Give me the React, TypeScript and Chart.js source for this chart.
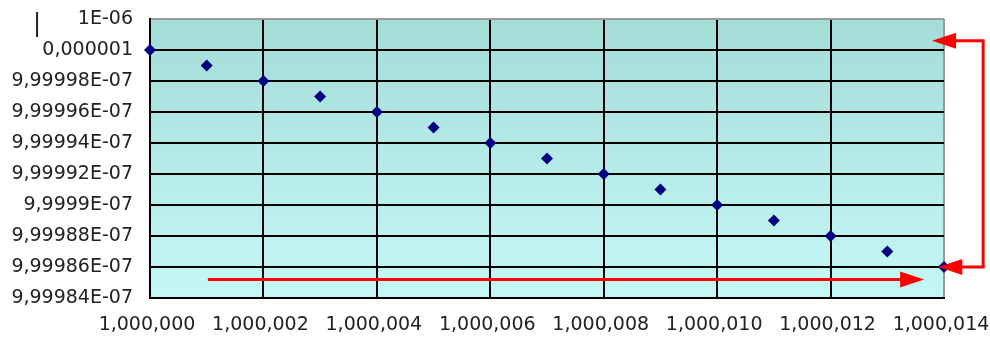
import React, { useEffect, useRef } from "react";
import { Chart, registerables } from "chart.js";

Chart.register(...registerables);

const xValues = [
  1000000, 1000001, 1000002, 1000003, 1000004, 1000005, 1000006, 1000007,
  1000008, 1000009, 1000010, 1000011, 1000012, 1000013, 1000014,
];
const yValues = [
  1e-6, 9.99999e-7, 9.99998e-7, 9.99997e-7, 9.99996e-7, 9.99995e-7, 9.99994e-7,
  9.99993e-7, 9.99992e-7, 9.99991e-7, 9.9999e-7, 9.99989e-7, 9.99988e-7,
  9.99987e-7, 9.99986e-7,
];

const xTickValues = [1000000, 1000002, 1000004, 1000006, 1000008, 1000010, 1000012, 1000014];
const xTickLabels = [
  "1,000,000", "1,000,002", "1,000,004", "1,000,006",
  "1,000,008", "1,000,010", "1,000,012", "1,000,014",
];
const yTickValues = [
  9.99984e-7, 9.99986e-7, 9.99988e-7, 9.9999e-7, 9.99992e-7,
  9.99994e-7, 9.99996e-7, 9.99998e-7, 1e-6, 1.000002e-6,
];
const yTickLabels = [
  "9,99984E-07", "9,99986E-07", "9,99988E-07", "9,9999E-07", "9,99992E-07",
  "9,99994E-07", "9,99996E-07", "9,99998E-07", "0,000001", "1E-06",
];

// Red annotation arrows in data coordinates
const hArrowFrom = { x: 1000001.02, y: 9.999852e-7 };
const hArrowTo = { x: 1000013.65, y: 9.999852e-7 };
const bracketX = 1000014.69;
const bracketTop = { x: 1000013.79, y: 1.0000006e-6 };
const bracketBottom = { x: 1000013.9, y: 9.99986e-7 };

const FONT = "'DejaVu Sans', sans-serif";

export default function App() {
  const ref = useRef<HTMLCanvasElement | null>(null);

  useEffect(() => {
    if (!ref.current) return;

    const bgPlugin = {
      id: "bg",
      beforeDraw(chart: any) {
        const { ctx, chartArea } = chart;
        const g = ctx.createLinearGradient(0, chartArea.top, 0, chartArea.bottom);
        g.addColorStop(0, "#a4dcd8");
        g.addColorStop(1, "#c4f8f6");
        ctx.save();
        ctx.fillStyle = g;
        ctx.fillRect(chartArea.left, chartArea.top, chartArea.right - chartArea.left, chartArea.bottom - chartArea.top);
        ctx.restore();
      },
    };

    const arrowPlugin = {
      id: "arrows",
      afterDraw(chart: any) {
        const { ctx } = chart;
        const xs = chart.scales.x;
        const ys = chart.scales.y;
        const px = (v: number) => xs.getPixelForValue(v);
        const py = (v: number) => ys.getPixelForValue(v);
        const head = (tx: number, ty: number, dir: number) => {
          ctx.beginPath();
          ctx.moveTo(tx, ty);
          ctx.lineTo(tx - dir * 24, ty - 8);
          ctx.lineTo(tx - dir * 24, ty + 8);
          ctx.closePath();
          ctx.fill();
        };
        ctx.save();
        ctx.strokeStyle = "#ff0000";
        ctx.fillStyle = "#ff0000";
        ctx.lineWidth = 3;
        const hx1 = px(hArrowFrom.x), hy = py(hArrowFrom.y), hx2 = px(hArrowTo.x);
        ctx.beginPath();
        ctx.moveTo(hx1, hy);
        ctx.lineTo(hx2 - 20, hy);
        ctx.stroke();
        head(hx2, hy, 1);
        const bx = px(bracketX);
        const ty = py(bracketTop.y), by = py(bracketBottom.y);
        const ttx = px(bracketTop.x), btx = px(bracketBottom.x);
        ctx.beginPath();
        ctx.moveTo(ttx + 20, ty);
        ctx.lineTo(bx, ty);
        ctx.lineTo(bx, by);
        ctx.lineTo(btx + 20, by);
        ctx.stroke();
        head(ttx, ty, -1);
        head(btx, by, -1);
        ctx.fillStyle = "#222";
        ctx.font = "24px " + FONT;
        ctx.textAlign = "center";
        ctx.textBaseline = "middle";
        ctx.fillText("|", 37, 25);
        ctx.restore();
      },
    };

    const chart = new Chart(ref.current, {
      type: "scatter",
      data: {
        datasets: [
          {
            data: xValues.map((x, i) => ({ x, y: yValues[i] })),
            pointStyle: "rectRot",
            pointRadius: 6,
            pointBackgroundColor: "#000080",
            pointBorderColor: "#000080",
            pointBorderWidth: 0,
            clip: false as any,
          },
        ],
      },
      options: {
        animation: false,
        responsive: false,
        layout: { padding: { left: 0, top: 19, right: 46, bottom: 0 } },
        plugins: { legend: { display: false }, tooltip: { enabled: false } },
        scales: {
          x: {
            type: "linear",
            min: 1000000,
            max: 1000014,
            afterBuildTicks: (s: any) => {
              s.ticks = xTickValues.map((v) => ({ value: v }));
            },
            afterFit: (s: any) => {
              s.height = 45;
              s.paddingLeft = 0;
              s.paddingRight = 0;
            },
            ticks: {
              autoSkip: false,
              maxRotation: 0,
              padding: 16,
              labelOffset: -3,
              color: "#222",
              font: { family: FONT, size: 19 },
              callback: (_v: any, i: number) => xTickLabels[i],
            },
            grid: {
              drawTicks: false,
              lineWidth: 2,
              color: (c: any) => (c.index === xTickValues.length - 1 ? "#999" : "#000"),
            },
            border: { display: true, color: "#000", width: 2 },
          },
          y: {
            type: "linear",
            min: 9.99984e-7,
            max: 1.000002e-6,
            afterBuildTicks: (s: any) => {
              s.ticks = yTickValues.map((v) => ({ value: v }));
            },
            afterFit: (s: any) => {
              s.width = 150;
              s.paddingTop = 0;
              s.paddingBottom = 0;
            },
            ticks: {
              autoSkip: false,
              padding: 17,
              color: "#222",
              font: { family: FONT, size: 19 },
              callback: (_v: any, i: number) => yTickLabels[i],
            },
            grid: {
              drawTicks: false,
              lineWidth: 2,
              color: (c: any) => (c.index === yTickValues.length - 1 ? "#999" : "#000"),
            },
            border: { display: true, color: "#000", width: 2 },
          },
        },
      },
      plugins: [bgPlugin, arrowPlugin],
    } as any);

    return () => chart.destroy();
  }, []);

  return (
    <div style={{ position: "absolute", left: 0, top: 0, width: 990, height: 343, background: "#fff" }}>
      <canvas ref={ref} width={990} height={343} style={{ display: "block" }} />
    </div>
  );
}
